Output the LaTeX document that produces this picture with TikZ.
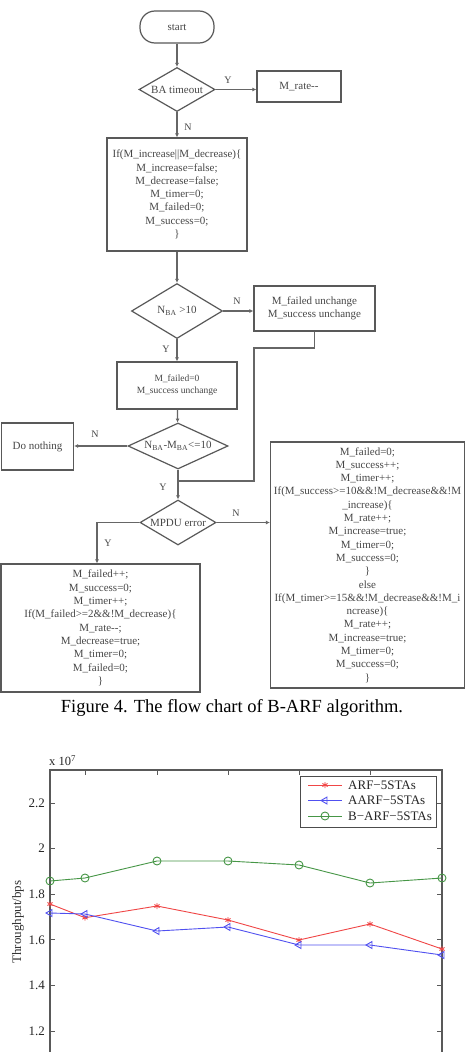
\documentclass[tikz,border=0pt]{standalone}
\usepackage{fontspec}
\setmainfont{Liberation Serif}
\usetikzlibrary{shapes.geometric,arrows.meta,plotmarks}
\definecolor{redc}{RGB}{240,70,70}
\definecolor{bluec}{RGB}{80,80,240}
\definecolor{greenc}{RGB}{70,150,70}
\begin{document}
\begin{tikzpicture}[x=1pt,y=-1pt,
  fc/.style={draw=black!65, line width=1.2pt, text=black!72, font=\fontsize{11}{13.3}\selectfont, inner sep=0pt, align=center},
  boxr/.style={fc, rectangle},
  dia/.style={fc, diamond},
  term/.style={fc, rectangle, rounded corners=15pt},
  conn/.style={draw=black!60, line width=1.3pt},
  arr/.style={conn, -{Latex[length=4pt,width=4pt]}},
  yn/.style={text=black!72, font=\fontsize{10}{12}\selectfont, inner sep=0pt},
  axisl/.style={draw=black!65, line width=1.2pt},
  tickl/.style={font=\fontsize{13}{15}\selectfont, text=black!85, inner sep=0pt},
  leg/.style={font=\fontsize{13}{15}\selectfont, text=black!85, inner sep=0pt, anchor=west},
]
\useasboundingbox (0,0) rectangle (466,1052);
\fill[white] (0,0) rectangle (466,1052);

% ---------------- flow chart ----------------
\node[term, minimum width=74pt, minimum height=32pt] (start) at (177,27) {start};
\node[dia, minimum width=76pt, minimum height=44pt] (ba) at (177,89.5) {\makebox[0pt]{BA timeout}};
\node[boxr, minimum width=84pt, minimum height=31pt] (rate) at (299,86.5) {M\_rate-{}-};
\node[boxr, minimum width=140pt, minimum height=113pt] (init) at (177,194.5)
  {If(M\_increase||M\_decrease)\{\\ M\_increase=false;\\ M\_decrease=false;\\ M\_timer=0;\\ M\_failed=0;\\ M\_success=0;\\ \}};
\node[dia, minimum width=91pt, minimum height=55pt] (nba) at (177,311) {\makebox[0pt]{N\textsubscript{BA} >10}};
\node[boxr, minimum width=121pt, minimum height=45pt] (unch) at (314.5,308.5) {M\_failed unchange\\ M\_success unchange};
\node[boxr, minimum width=120pt, minimum height=47pt, font=\fontsize{9.5}{12}\selectfont] (f0) at (177,385.5) {M\_failed=0\\ M\_success unchange};
\node[dia, minimum width=100pt, minimum height=46pt] (nm) at (178,446) {\makebox[0pt]{N\textsubscript{BA}-M\textsubscript{BA}<=10}};
\node[boxr, minimum width=72pt, minimum height=47pt] (nothing) at (37.5,446.5) {Do nothing};
\node[dia, minimum width=76pt, minimum height=45pt] (mpdu) at (178,522.5) {\makebox[0pt]{MPDU error}};
\node[boxr, minimum width=194pt, minimum height=246pt] (succ) at (367.5,565)
  {M\_failed=0;\\ M\_success++;\\ M\_timer++;\\ If(M\_success>=10\&\&!M\_decrease\&\&!M\\ \_increase)\{\\ M\_rate++;\\ M\_increase=true;\\ M\_timer=0;\\ M\_success=0;\\ \}\\ else\\ If(M\_timer>=15\&\&!M\_decrease\&\&!M\_i\\ ncrease)\{\\ M\_rate++;\\ M\_increase=true;\\ M\_timer=0;\\ M\_success=0;\\ \}};
\node[boxr, minimum width=199pt, minimum height=128pt] (fail) at (100.5,628)
  {M\_failed++;\\ M\_success=0;\\ M\_timer++;\\ If(M\_failed>=2\&\&!M\_decrease)\{\\ M\_rate-{}-;\\ M\_decrease=true;\\ M\_timer=0;\\ M\_failed=0;\\ \}};

\draw[arr] (start) -- (ba);
\draw[arr] (ba.east) -- (ba.east -| rate.west);
\draw[arr] (ba) -- (init);
\draw[arr] (init) -- (nba);
\draw[arr] (nba.east) -- (nba.east -| unch.west);
\draw[arr] (nba) -- (f0);
\draw[arr] (f0) -- (nm);
\draw[arr] (nm.west) -- (nm.west -| nothing.east);
\draw[arr] (nm) -- (mpdu);
\coordinate (c1) at (254,348);
\coordinate (c2) at (254,481);
\coordinate (j) at (178,481);
\draw[conn] (unch.south) |- (c1) -- (c2) -- (j);
\draw[arr] (mpdu.east) -- (mpdu.east -| succ.west);
\coordinate (c3) at (97,522.5);
\draw[arr] (mpdu.west) -- (c3) -- (c3 |- fail.north);

\node[yn] (y1) at (228,80) {Y};
\node[yn] (n1) at (188,127) {N};
\node[yn] (n2) at (237,301) {N};
\node[yn] (y2) at (166,349) {Y};
\node[yn] (n3) at (95,434) {N};
\node[yn] (y3) at (163,487) {Y};
\node[yn] (n4) at (236,513) {N};
\node[yn] (y4) at (108,543) {Y};

% ---------------- caption ----------------
\node[font=\fontsize{18.5}{22}\selectfont, inner sep=0pt] (cap) at (232,708) {Figure 4. The flow chart of B-ARF algorithm.};

% ---------------- plot ----------------
\draw[axisl] (50,1052) -- (50,770) -- (442,770) -- (442,1052);
\foreach \xx in {85,157,228,299,370} { \draw[axisl, line width=1pt] (\xx,770) -- ++(0,5); }
\foreach \yy/\lab in {803/2.2, 848.6/2, 894.2/1.8, 939.8/1.6, 985.4/1.4, 1031/1.2} {
  \draw[axisl, line width=1pt] (50,\yy) -- ++(5,0);
  \draw[axisl, line width=1pt] (442,\yy) -- ++(-5,0);
  \node[tickl, anchor=east] at (45,\yy) {\lab};
}
\node[font=\fontsize{12.5}{14}\selectfont, text=black!85, inner sep=0pt, anchor=west] (exp) at (49,761) {x 10\textsuperscript{7}};
\node[rotate=90, font=\fontsize{13}{15}\selectfont, text=black!80, inner sep=0pt] (ylab) at (18,922) {Throughput/bps};

\draw[greenc, line width=0.9pt, mark=o, mark size=4pt] plot coordinates {(50,881) (85,878) (157,861) (228,861) (299,865) (370,883) (442,878)};
\draw[redc, line width=0.9pt, mark=asterisk, mark size=3pt] plot coordinates {(50,904) (85,917.7) (157,906) (228,920) (299,940) (370,924) (442,949)};
\draw[bluec, line width=0.9pt, mark=triangle, mark size=4pt, mark options={rotate=90}] plot coordinates {(50,913) (85,914) (157,931) (228,927) (299,945) (370,945) (442,955)};

% legend
\draw[draw=black!70, line width=1pt, fill=white] (300,776) rectangle (436,827);
\draw[redc, line width=0.9pt] (308,785) -- (342,785);
\draw[redc, line width=0.9pt, mark=asterisk, mark size=3pt] plot coordinates {(325,785)};
\draw[bluec, line width=0.9pt] (308,800.5) -- (342,800.5);
\draw[bluec, line width=0.9pt, mark=triangle, mark size=4pt, mark options={rotate=90}] plot coordinates {(325,800.5)};
\draw[greenc, line width=0.9pt] (308,816) -- (342,816);
\draw[greenc, line width=0.9pt, mark=o, mark size=4pt] plot coordinates {(325,816)};
\node[leg] (l1) at (348,785) {ARF−5STAs};
\node[leg] (l2) at (348,800.5) {AARF−5STAs};
\node[leg] (l3) at (348,816) {B−ARF−5STAs};
\end{tikzpicture}
\end{document}
